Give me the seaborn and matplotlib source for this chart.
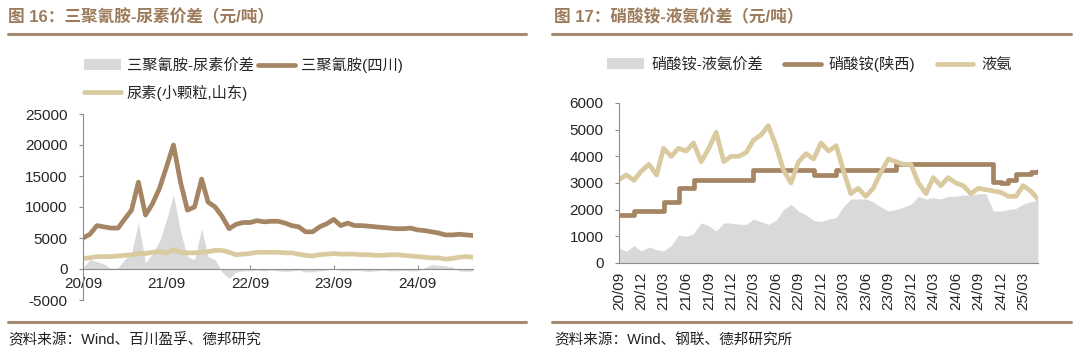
import numpy as np
import pandas as pd
import seaborn as sns
import matplotlib.pyplot as plt
import matplotlib.dates as mdates
from matplotlib.lines import Line2D

# monthly points, 2020-09 .. 2025-05
months = pd.date_range('2020-09-01', periods=57, freq='MS')

# Fig 16: melamine (Sichuan), urea (Shandong), spread
melamine = [5000, 5600, 7000, 6800, 6600, 6600, 8000, 9500, 14000, 8700,
            10500, 13000, 16500, 20000, 14000, 9500, 10000, 14500, 10800, 10000,
            8500, 6500, 7200, 7500, 7500, 7800, 7600, 7700, 7700, 7400,
            7000, 6800, 6000, 6000, 6800, 7300, 8000, 7000, 7400, 7000,
            7000, 6900, 6800, 6700, 6600, 6500, 6500, 6600, 6300, 6200,
            6000, 5800, 5500, 5500, 5600, 5500, 5400]
urea = [1700, 1800, 2000, 2000, 2000, 2100, 2200, 2300, 2500, 2500,
        2700, 2800, 2600, 3100, 2700, 2600, 2600, 2700, 2800, 3000,
        3000, 2700, 2300, 2400, 2500, 2700, 2700, 2700, 2700, 2600,
        2600, 2400, 2200, 2100, 2300, 2400, 2500, 2400, 2400, 2400,
        2300, 2300, 2200, 2200, 2300, 2300, 2200, 2100, 2000, 1900,
        1800, 1800, 1600, 1700, 1900, 2000, 1900]
mel_spread = [200, 1500, 1200, 800, 100, 200, 1500, 2500, 7500, 1000,
              2500, 4500, 8000, 12000, 6000, 2000, 1500, 6500, 2000, 1500,
              -500, -1500, -500, -300, -300, -200, -300, -200, -300, -400,
              -300, -200, -500, -400, -300, -200, 100, -300, -300, -200,
              -300, -400, -300, -200, -300, -300, -200, -300, -300, 200,
              700, 600, 500, 300, -300, -400, -300]

# Fig 17: ammonium nitrate (Shaanxi), liquid ammonia, spread
an_price = [1800, 1800, 1950, 1950, 1950, 1950, 2300, 2300, 2800, 2800,
            3100, 3100, 3100, 3100, 3100, 3100, 3100, 3100, 3500, 3500,
            3500, 3500, 3500, 3500, 3500, 3500, 3300, 3300, 3300, 3500,
            3500, 3500, 3500, 3500, 3500, 3500, 3500, 3700, 3700, 3700,
            3700, 3700, 3700, 3700, 3700, 3700, 3700, 3700, 3700, 3700,
            3050, 3000, 3100, 3350, 3350, 3400, 3450]
ammonia = [3125, 3300, 3100, 3450, 3700, 3300, 4300, 4000, 4300, 4200,
           4500, 3800, 4300, 4900, 3800, 4000, 4000, 4150, 4600, 4800,
           5150, 4400, 3500, 3000, 3800, 4100, 3900, 4500, 4200, 4400,
           3500, 2600, 2800, 2500, 2800, 3400, 3900, 3800, 3700, 3700,
           3000, 2600, 3200, 2900, 3200, 3000, 2900, 2600, 2800, 2750,
           2700, 2650, 2500, 2500, 2900, 2700, 2400]
an_spread = [550, 450, 650, 450, 600, 500, 450, 650, 1050, 1000,
             1100, 1500, 1400, 1200, 1500, 1500, 1450, 1450, 1650, 1550,
             1450, 1600, 2000, 2200, 1950, 1800, 1600, 1550, 1650, 1700,
             2100, 2400, 2400, 2400, 2300, 2100, 1950, 2000, 2100, 2200,
             2500, 2400, 2450, 2400, 2500, 2500, 2550, 2550, 2600, 2600,
             1950, 1950, 2000, 2050, 2200, 2300, 2350]

brown = '#A58563'
tan = '#DACA9F'
grey = '#D9D9D9'
title_c = '#9C7B5B'
rule_c = '#A88C70'

sns.set_theme(style='white')
plt.rcParams['font.family'] = ['Liberation Sans', 'Noto Sans CJK SC']
plt.rcParams['axes.unicode_minus'] = False

fig = plt.figure(figsize=(10.8, 3.6), dpi=100)

def px_axes(l, t, r, b):
    return fig.add_axes([l / 1080, 1 - b / 360, (r - l) / 1080, (b - t) / 360])

def style_axes(ax):
    for s in ['top', 'right']:
        ax.spines[s].set_visible(False)
    for s in ['left', 'bottom']:
        ax.spines[s].set_color('#8C8C8C')
        ax.spines[s].set_linewidth(0.8)
    ax.tick_params(axis='y', direction='out', length=3, width=0.8, color='#8C8C8C',
                   labelsize=11, pad=8, left=True)
    ax.tick_params(axis='x', direction='in', length=3, width=0.8, color='#8C8C8C',
                   labelsize=11, bottom=True)
    ax.set_xlabel('')
    ax.set_ylabel('')
    ax.set_xlim(months[0], months[-1])

# ---- left chart
ax1 = px_axes(83, 114, 473, 300)
ax1.fill_between(months, 0, mel_spread, color=grey, lw=0, label='三聚氰胺-尿素价差')
sns.lineplot(x=months, y=urea, ax=ax1, color=tan, lw=3.4, label='尿素(小颗粒,山东)')
sns.lineplot(x=months, y=melamine, ax=ax1, color=brown, lw=3.4, label='三聚氰胺(四川)')
style_axes(ax1)
ax1.set_ylim(-5000, 25000)
ax1.set_yticks(range(-5000, 25001, 5000))
ax1.spines['bottom'].set_position(('data', 0))
ax1.set_xticks(pd.date_range('2020-09-01', '2024-09-01', freq='12MS'))
ax1.xaxis.set_major_formatter(mdates.DateFormatter('%y/%m'))
ax1.tick_params(axis='x', pad=6)
h, l = ax1.get_legend_handles_labels()
order = [l.index('三聚氰胺-尿素价差'), l.index('尿素(小颗粒,山东)'), l.index('三聚氰胺(四川)')]
ax1.legend([h[i] for i in order], [l[i] for i in order], ncol=2, frameon=False,
           loc='upper left', bbox_to_anchor=(84 / 1080, 1 - 57 / 360),
           bbox_transform=fig.transFigure, fontsize=11, handlelength=2.4,
           handletextpad=0.4, columnspacing=0.3, labelspacing=0.75, borderpad=0,
           borderaxespad=0)

# ---- right chart
ax2 = px_axes(619, 103, 1038, 263)
ax2.fill_between(months, 0, an_spread, color=grey, lw=0, label='硝酸铵-液氨价差')
sns.lineplot(x=months, y=an_price, ax=ax2, color=brown, lw=3.4, drawstyle='steps-post',
             label='硝酸铵(陕西)')
sns.lineplot(x=months, y=ammonia, ax=ax2, color=tan, lw=3.4, label='液氨')
style_axes(ax2)
ax2.set_ylim(0, 6000)
ax2.set_yticks(range(0, 6001, 1000))
ax2.set_xticks(pd.date_range('2020-09-01', '2025-03-01', freq='3MS'))
ax2.xaxis.set_major_formatter(mdates.DateFormatter('%y/%m'))
ax2.tick_params(axis='x', labelrotation=90, pad=6)
h, l = ax2.get_legend_handles_labels()
order = [l.index('硝酸铵-液氨价差'), l.index('硝酸铵(陕西)'), l.index('液氨')]
ax2.legend([h[i] for i in order], [l[i] for i in order], ncol=3, frameon=False,
           loc='upper left', bbox_to_anchor=(607 / 1080, 1 - 56 / 360),
           bbox_transform=fig.transFigure, fontsize=11, handlelength=2.4,
           handletextpad=0.5, columnspacing=1.4, borderpad=0, borderaxespad=0)

# ---- titles, rules, sources
fig.text(8 / 1080, 1 - 17 / 360, '图 16：三聚氰胺-尿素价差（元/吨）', color=title_c,
         fontsize=12, fontweight='bold', va='center', ha='left')
fig.text(554 / 1080, 1 - 17 / 360, '图 17：硝酸铵-液氨价差（元/吨）', color=title_c,
         fontsize=12, fontweight='bold', va='center', ha='left')
for x0, x1 in [(8, 526), (552, 1071)]:
    for y in (34, 322):
        fig.add_artist(Line2D([x0 / 1080, x1 / 1080], [1 - y / 360, 1 - y / 360],
                              color=rule_c, lw=2.2, transform=fig.transFigure))
fig.text(8 / 1080, 1 - 340 / 360, '资料来源：Wind、百川盈孚、德邦研究', fontsize=10.5,
         va='center', ha='left', color='#222222')
fig.text(554 / 1080, 1 - 340 / 360, '资料来源：Wind、钢联、德邦研究所', fontsize=10.5,
         va='center', ha='left', color='#222222')

fig.savefig('out.png', dpi=100)
